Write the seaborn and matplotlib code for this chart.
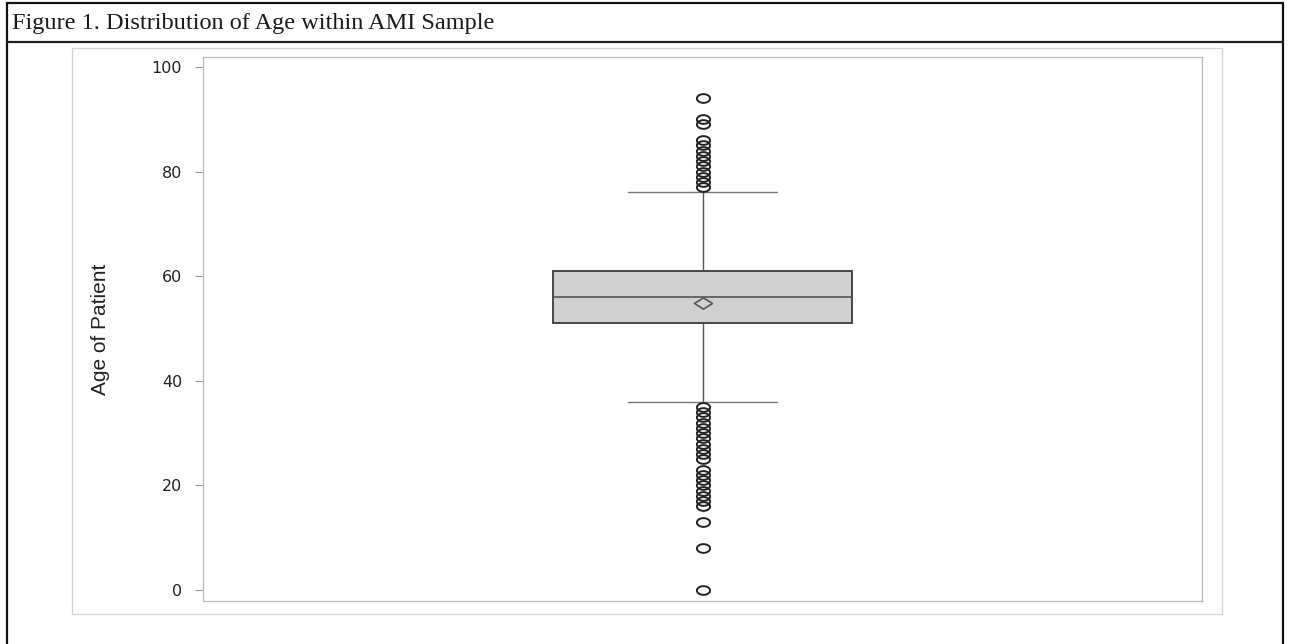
import numpy as np
import pandas as pd
import matplotlib
matplotlib.use("Agg")
import matplotlib.pyplot as plt
from matplotlib.patches import Rectangle
from matplotlib.lines import Line2D
from matplotlib.path import Path
import seaborn as sns

# ---- values ----
title = "Figure 1. Distribution of Age within AMI Sample"
y_label = "Age of Patient"
y_ticks = [0, 20, 40, 60, 80, 100]
lower_whisker = 36
q1 = 51
median = 56
q3 = 61
upper_whisker = 76
low_outliers = [0, 8, 13, 16, 17, 18, 19, 20, 21, 22, 23,
                25, 26, 27, 28, 29, 30, 31, 32, 33, 34, 35]
high_outliers = [77, 78, 79, 80, 81, 82, 83, 84, 85, 86, 89, 90, 94]
# weight of each quartile value in the reconstructed sample
quartile_weight = 100

ages = (low_outliers + [lower_whisker] + [q1] * quartile_weight
        + [median] * quartile_weight + [q3] * quartile_weight
        + [upper_whisker] + high_outliers)
df = pd.DataFrame({"Age": ages})

sns.set_style("white")
plt.rcParams["font.family"] = ["DejaVu Sans"]

W, H = 1289, 644
fig = plt.figure(figsize=(W / 100, H / 100), dpi=100)

def fx(px):
    return px / W

def fy(py):
    return 1 - py / H

# frame decorations
fig.add_artist(Rectangle((fx(7), fy(660)), fx(1283) - fx(7), fy(3) - fy(660),
                         transform=fig.transFigure, fill=False, ec="#111111", lw=1.6))
fig.add_artist(Line2D([fx(7), fx(1283)], [fy(42), fy(42)], transform=fig.transFigure,
                      color="#222222", lw=1.6))
fig.add_artist(Rectangle((fx(72), fy(614)), fx(1222) - fx(72), fy(48) - fy(614),
                         transform=fig.transFigure, fill=False, ec="#d4d4d4", lw=0.9))
fig.text(fx(12), fy(23), title, fontsize=17.5, family=["Liberation Serif", "DejaVu Serif"],
         va="center", ha="left", color="#1a1a1a")

ax = fig.add_axes([fx(203), fy(601), fx(1202) - fx(203), fy(57) - fy(601)])

theta = np.linspace(0, 2 * np.pi, 40)
ellipse = Path(np.column_stack([np.cos(theta), 0.66 * np.sin(theta)]))
diamond = Path([(-1, 0), (0, 0.62), (1, 0), (0, -0.62), (-1, 0)],
               [Path.MOVETO, Path.LINETO, Path.LINETO, Path.LINETO, Path.CLOSEPOLY])

sns.boxplot(data=df, y="Age", ax=ax, width=0.3, saturation=1,
            color="#d0d0d0", linecolor="#4a4a4a", linewidth=1.2,
            showmeans=True,
            meanprops=dict(marker=diamond, markersize=13, markerfacecolor="none",
                           markeredgecolor="#555555", markeredgewidth=1.2),
            flierprops=dict(marker=ellipse, markersize=9.5, markerfacecolor="none",
                            markeredgecolor="#222222", markeredgewidth=1.4),
            whiskerprops=dict(color="#555555", linewidth=1.0),
            capprops=dict(color="#777777", linewidth=1.0),
            medianprops=dict(color="#555555", linewidth=1.2),
            boxprops=dict(edgecolor="#3a3a3a", linewidth=1.3))

ax.set_ylim(-2.1, 101.9)
ax.set_xlim(-0.5, 0.5)
ax.set_yticks(y_ticks)
ax.set_yticklabels([str(t) for t in y_ticks], fontsize=11.5, color="#222222",
                   family=["DejaVu Sans"])
ax.set_xticks([])
ax.set_xlabel("")
ax.set_ylabel(y_label, fontsize=15, color="#222222",
              family=["Liberation Sans", "DejaVu Sans"])
ax.yaxis.set_label_coords(fx(110 - 203) / (fx(1202) - fx(203)), 0.5)
ax.tick_params(axis="y", direction="out", length=6, width=0.8, color="#9a9a9a",
               pad=9, left=True)
for s in ax.spines.values():
    s.set_visible(True)
    s.set_color("#b8b8b8")
    s.set_linewidth(0.9)
ax.grid(False)

fig.savefig("out.png", dpi=100)
